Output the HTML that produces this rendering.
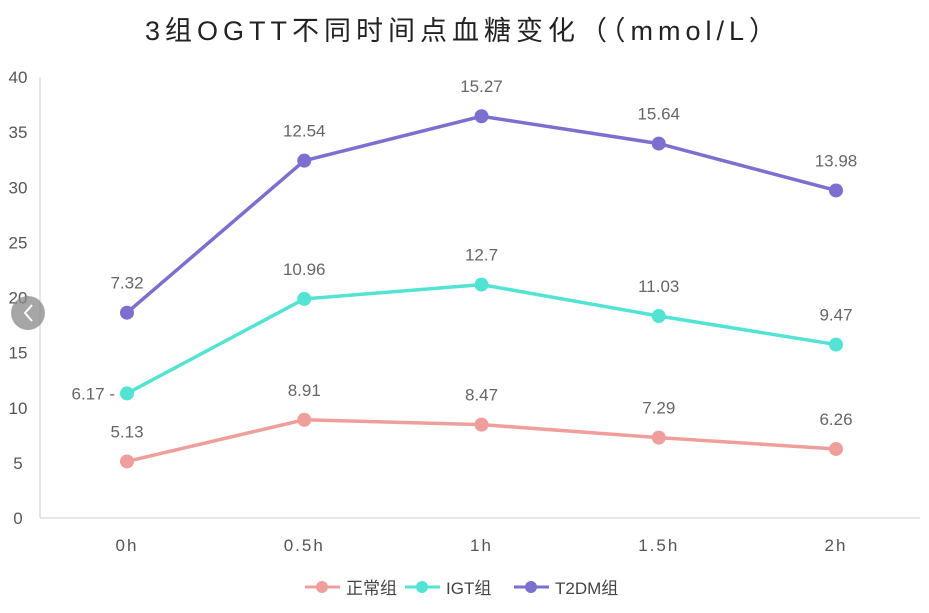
<!DOCTYPE html>
<html><head><meta charset="utf-8"><style>
body{margin:0;background:#fff;}
svg text{font-family:"Liberation Sans","Noto Sans CJK SC",sans-serif;}
</style></head><body>
<svg id="chart" width="929" height="608" xmlns="http://www.w3.org/2000/svg">
<text x="463" y="40" text-anchor="middle" font-size="27" letter-spacing="5" fill="#222">3组OGTT不同时间点血糖变化（（mmol/L）</text>
<g id="grid"></g><g id="series"></g>
<g>
<g><line x1="305" y1="587" x2="340" y2="587" stroke="#ee9f9c" stroke-width="3"/><circle cx="322" cy="587" r="6" fill="#ee9f9c"/><text x="346" y="594" font-size="17" fill="#444">正常组</text></g>
<g><line x1="405" y1="587" x2="440" y2="587" stroke="#52e3d3" stroke-width="3"/><circle cx="422" cy="587" r="6" fill="#52e3d3"/><text x="446" y="594" font-size="17" fill="#444">IGT组</text></g>
<g><line x1="514" y1="587" x2="549" y2="587" stroke="#7b6fcf" stroke-width="3"/><circle cx="531" cy="587" r="6" fill="#7b6fcf"/><text x="555" y="594" font-size="17" fill="#444">T2DM组</text></g>
</g>
<g><circle cx="28" cy="313" r="17" fill="#888" opacity="0.75"/><path d="M32 305 L25 313 L32 321" stroke="#fff" stroke-width="2" fill="none"/></g>
</svg>
<script>
const categories=["0h","0.5h","1h","1.5h","2h"];
const normal=[5.13,8.91,8.47,7.29,6.26];
const igt=[6.17,10.96,12.7,11.03,9.47];
const t2dm=[7.32,12.54,15.27,15.64,13.98];
const yTicks=[0,5,10,15,20,25,30,35,40];
const NS="http://www.w3.org/2000/svg";
const xS=i=>127+i*177.25;
const yS=v=>518-v*11.025;
const grid=document.getElementById('grid'),ser=document.getElementById('series');
function mk(t,a,p){const e=document.createElementNS(NS,t);for(const k in a)e.setAttribute(k,a[k]);p.appendChild(e);return e;}
let ax=mk('line',{x1:40,y1:77,x2:40,y2:518,stroke:'#ccc'},grid);


let bx=mk('line',{x1:40,y1:518,x2:920,y2:518,stroke:'#ccc'},grid);


yTicks.forEach(v=>{const t=mk('text',{x:18,y:yS(v)+6,'text-anchor':'middle','font-size':17,fill:'#555'},grid);t.textContent=v;

});
categories.forEach((c,i)=>{const t=mk('text',{x:xS(i),y:551,'text-anchor':'middle','font-size':17,fill:'#555','letter-spacing':'2'},grid);t.textContent=c;

});
const series=[["normal",normal,"#ee9f9c"],["igt",igt,"#52e3d3"],["t2dm",t2dm,"#7b6fcf"]];
let base=[0,0,0,0,0];
series.forEach(([n,vals,col],si)=>{
 const cum=vals.map((v,i)=>base[i]+v);
 const g=mk('g',{},ser);
 
 
 const pl=mk('polyline',{points:cum.map((v,i)=>xS(i)+','+yS(v)).join(' '),fill:'none',stroke:col,'stroke-width':3.5},g);
 
 
 cum.forEach((v,i)=>{
  const c=mk('circle',{cx:xS(i),cy:yS(v),r:7,fill:col},g);
  
  
  let lx=xS(i),ly=yS(v)-24,anc='middle';
  if(n==='igt'&&i===0){lx=xS(i)-12;ly=yS(v)+6;anc='end';}
  const t=mk('text',{x:lx,y:ly,'text-anchor':anc,'font-size':17,fill:'#666'},g);
  t.textContent=vals[i]+(n==='igt'&&i===0?' -':'');
  
  
 });
 base=cum;
});
</script>
</body></html>
